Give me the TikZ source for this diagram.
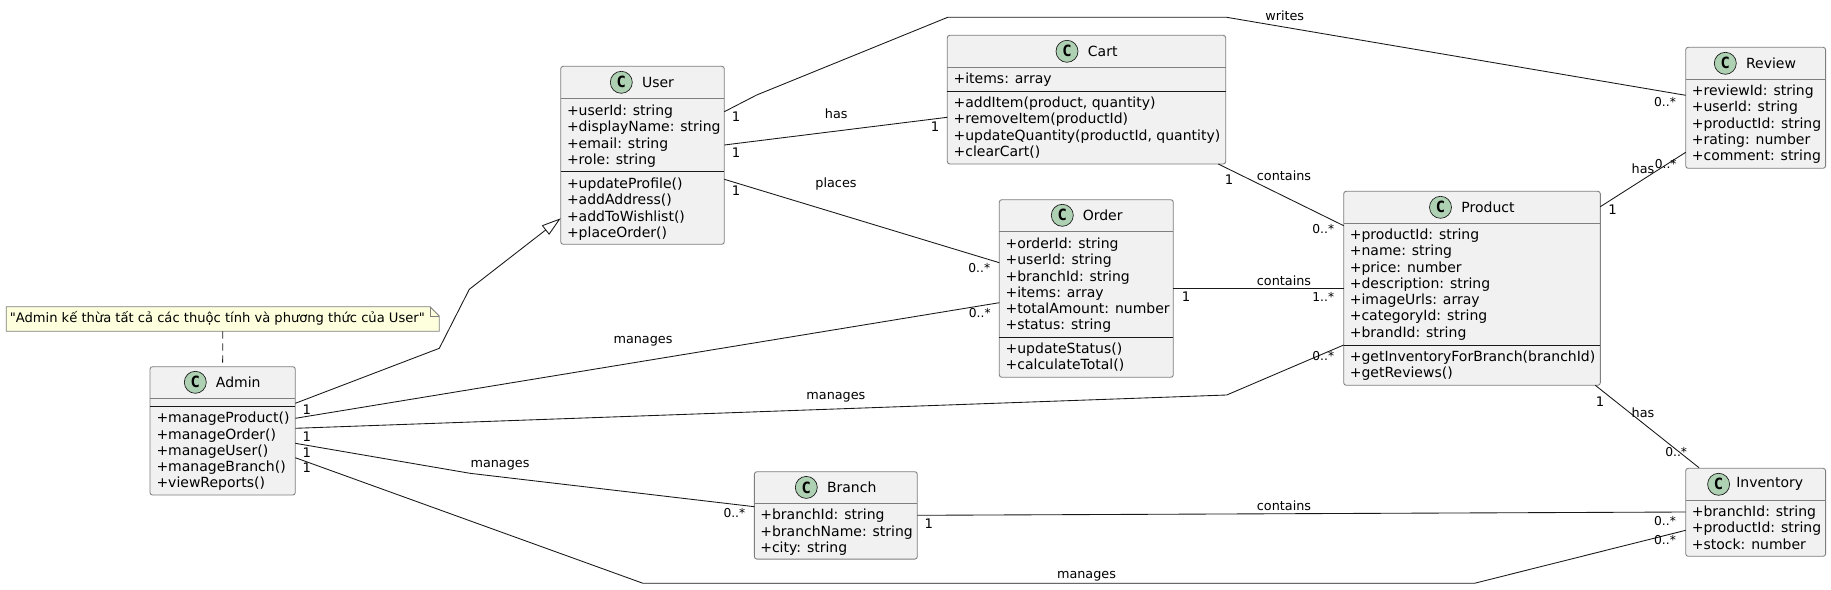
\documentclass[tikz,border=0pt]{standalone}
\usepackage{fontspec}
\setmainfont{DejaVu Sans}
\newfontfamily\iconfont{DejaVu Sans Mono}
\newfontfamily\notefont{DejaVu Sans}[Ligatures=NoCommon]
\usetikzlibrary{arrows.meta}
\definecolor{boxfill}{HTML}{F1F1F1}
\definecolor{boxline}{HTML}{7F7F7F}
\definecolor{ink}{HTML}{181818}
\definecolor{iconfill}{HTML}{ADD1B2}
\definecolor{notefill}{HTML}{FEFFDD}
\tikzset{
  classbox/.style={draw=boxline,fill=boxfill,line width=0.65pt,rounded corners=1.9pt,inner sep=0pt,outer sep=0pt},
  headsep/.style={draw=boxline,line width=0.65pt},
  membsep/.style={draw=ink,line width=0.7pt},
  member/.style={anchor=base west,inner sep=0pt,outer sep=0pt,text=black,font=\fontsize{10.5}{12}\selectfont},
  ctitle/.style={inner sep=0pt,outer sep=0pt,text=black,font=\fontsize{10.5}{12}\selectfont},
  iconc/.style={circle,draw=ink,fill=iconfill,line width=0.5pt,minimum size=16.5pt,inner sep=0pt,outer sep=0pt,text=black,font=\iconfont\bfseries\fontsize{11.6}{12}\selectfont},
  assoc/.style={draw=ink,line width=0.65pt,line join=miter},
  lbl/.style={inner sep=0pt,outer sep=0pt,text=black,font=\fontsize{9.6}{11}\selectfont},
  card/.style={inner sep=0pt,outer sep=0pt,text=black,font=\fontsize{9.2}{11}\selectfont},
  cardone/.style={inner sep=0pt,outer sep=0pt,text=black,font=\fontsize{9.9}{11}\selectfont},
  notetext/.style={inner sep=0pt,outer sep=0pt,text=black,font=\notefont\fontsize{9.82}{11}\selectfont},
  notebox/.style={draw=boxline,fill=notefill,line width=0.65pt},
}
\newcommand{\classnode}[5]{%
  \node[classbox,minimum width={(#4-#2)*0.75pt},minimum height={(#5-#3)*0.75pt}] (#1) at ({(#2+#4)/2},{(#3+#5)/2}) {};}
\newcommand{\classhead}[6]{%
  \node[iconc] (#1-icon) at (#2,#3) {C};
  \node[ctitle] (#1-title) at (#4,#5) {#6};}
\newcommand{\memberlist}[5]{%
  \foreach \memb [count=\mi] in {#5} {\node[member] (#1-#2\mi) at (#3,{#4+(\mi-1)*16.27}) {\memb};}}
\begin{document}
\begin{tikzpicture}[x=0.75pt,y=-0.75pt]
\useasboundingbox[fill=white] (0,0) rectangle (1831,589);

% class boxes
\classnode{admin}{150}{366.7}{295.3}{495}
\classnode{user}{560.7}{66.3}{724.3}{244.3}
\classnode{cart}{947.3}{35.3}{1225.7}{164}
\classnode{order}{999.3}{199.7}{1173.3}{377.3}
\classnode{product}{1343.7}{191.3}{1600.3}{385.3}
\classnode{review}{1685.7}{47.3}{1825.6}{168.3}
\classnode{inventory}{1685.7}{468.3}{1825.6}{556.3}
\classnode{branch}{754.4}{471.7}{917.3}{559.1}

% compartment separators
\draw[headsep] (admin.west |- 0,398) -- (admin.east |- 0,398);
\draw[membsep] (admin.west |- 0,406.3) -- (admin.east |- 0,406.3);
\draw[headsep] (user.west |- 0,98.3) -- (user.east |- 0,98.3);
\draw[membsep] (user.west |- 0,171.3) -- (user.east |- 0,171.3);
\draw[headsep] (cart.west |- 0,67.3) -- (cart.east |- 0,67.3);
\draw[membsep] (cart.west |- 0,91.3) -- (cart.east |- 0,91.3);
\draw[headsep] (order.west |- 0,231.5) -- (order.east |- 0,231.5);
\draw[membsep] (order.west |- 0,337.3) -- (order.east |- 0,337.3);
\draw[headsep] (product.west |- 0,223.3) -- (product.east |- 0,223.3);
\draw[membsep] (product.west |- 0,345) -- (product.east |- 0,345);
\draw[headsep] (review.west |- 0,79.5) -- (review.east |- 0,79.5);
\draw[headsep] (inventory.west |- 0,500.3) -- (inventory.east |- 0,500.3);
\draw[headsep] (branch.west |- 0,503.3) -- (branch.east |- 0,503.3);

% headers
\classhead{admin}{195.3}{382.3}{238.3}{382}{Admin}
\classhead{user}{621.3}{82.3}{658}{82}{User}
\classhead{cart}{1067}{51.3}{1102.7}{51}{Cart}
\classhead{order}{1062.3}{215.3}{1102.7}{215}{Order}
\classhead{product}{1440.5}{207.3}{1488}{207}{Product}
\classhead{review}{1725.3}{63.3}{1771}{63}{Review}
\classhead{inventory}{1718.6}{484.3}{1769.7}{484}{Inventory}
\classhead{branch}{806.3}{487.4}{851.7}{487.5}{Branch}

% members
\memberlist{admin}{m}{156.5}{422.8}{+manageProduct(),+manageOrder(),+manageUser(),+manageBranch(),+viewReports()}
\memberlist{user}{a}{567}{115.5}{+userId: string,+displayName: string,+email: string,+role: string}
\memberlist{user}{m}{567}{188.5}{+updateProfile(),+addAddress(),+addToWishlist(),+placeOrder()}
\memberlist{cart}{a}{953.6}{83.5}{+items: array}
\memberlist{cart}{m}{953.6}{107.5}{{+addItem(product, quantity)},+removeItem(productId),{+updateQuantity(productId, quantity)},+clearCart()}
\memberlist{order}{a}{1005.6}{248.5}{+orderId: string,+userId: string,+branchId: string,+items: array,+totalAmount: number,+status: string}
\memberlist{order}{m}{1005.6}{353.5}{+updateStatus(),+calculateTotal()}
\memberlist{product}{a}{1349.8}{239.5}{+productId: string,+name: string,+price: number,+description: string,+imageUrls: array,+categoryId: string,+brandId: string}
\memberlist{product}{m}{1349.8}{361.5}{+getInventoryForBranch(branchId),+getReviews()}
\memberlist{review}{a}{1691.8}{95.5}{+reviewId: string,+userId: string,+productId: string,+rating: number,+comment: string}
\memberlist{inventory}{a}{1691.8}{516.5}{+branchId: string,+productId: string,+stock: number}
\memberlist{branch}{a}{760.3}{519.8}{+branchId: string,+branchName: string,+city: string}

% note
\node[inner sep=0pt,outer sep=0pt,minimum width=324.75pt,minimum height=18.45pt] (note) at (222.8,319) {};
\draw[notebox] (note.north west) -- (430,0 |- note.north) -- (note.east |- 0,316) -- (note.south east) -- (note.south west) -- cycle;
\draw[boxline,line width=0.65pt] (430,0 |- note.north) -- (430,316) -- (note.east |- 0,316);
\node[notetext] (note-text) at (217.3,318.5) {"Admin kế thừa tất cả các thuộc tính và phương thức của User"};
\draw[assoc,dash pattern=on 5.5pt off 3.5pt] (note.south) -- (admin.north);

% connectors
\draw[assoc,-{Triangle[open,fill=white,length=14.5pt,width=8.8pt]}] (admin.east |- 0,403.3) -- (439.3,348.3) -- (469.3,289.3) -- (user.west |- 0,218.3);
\draw[assoc] (admin.east |- 0,418.3) -- (order.west |- 0,302.7);
\draw[assoc] (admin.east |- 0,428.3) -- (1226.7,395) -- (product.west |- 0,345);
\draw[assoc] (admin.east |- 0,443.3) -- (470,473.3) -- (branch.west |- 0,506.7);
\draw[assoc] (admin.east |- 0,457.7) -- (643,583.3) -- (1474.4,583.3) -- (inventory.west |- 0,530.3);
\draw[assoc] (user.east |- 0,111.7) -- (756.7,95) -- (947.7,17.3) -- (1226.7,17.3) -- (review.west |- 0,95.3);
\draw[assoc] (user.east |- 0,145) -- (cart.west |- 0,117.3);
\draw[assoc] (user.east |- 0,179.3) -- (order.west |- 0,262.7);
\draw[assoc] (cart.south -| 1218.3,0) -- (product.west |- 0,225.7);
\draw[assoc] (order.east |- 0,288.3) -- (product.west |- 0,288.3);
\draw[assoc] (product.east |- 0,206.7) -- (review.west |- 0,152.3);
\draw[assoc] (product.south -| 1595.3,0) -- (1699,467.7);
\draw[assoc] (branch.east |- 0,515.3) -- (inventory.west |- 0,512);

% connector labels
\node[lbl] (l-writes) at (1284.7,15.7) {writes};
\node[lbl] (l-has1) at (836.3,113.3) {has};
\node[lbl] (l-places) at (836,183.7) {places};
\node[lbl] (l-cont1) at (1284,175.7) {contains};
\node[lbl] (l-cont2) at (1284,280.7) {contains};
\node[lbl] (l-cont3) at (1284,506) {contains};
\node[lbl] (l-has2) at (1643,168.3) {has};
\node[lbl] (l-has3) at (1643,412.7) {has};
\node[lbl] (l-man1) at (643,341.7) {manages};
\node[lbl] (l-man2) at (835.9,397.7) {manages};
\node[lbl] (l-man3) at (500,465.7) {manages};
\node[lbl] (l-man4) at (1086.5,576) {manages};

% multiplicities
\node[cardone] (c1) at (306.7,409.7) {1};
\node[cardone] (c2) at (306.7,436.5) {1};
\node[cardone] (c3) at (306.7,452.3) {1};
\node[cardone] (c4) at (306.7,467.3) {1};
\node[cardone] (c5) at (736,116.3) {1};
\node[cardone] (c6) at (736,152.7) {1};
\node[cardone] (c7) at (935,126.7) {1};
\node[cardone] (c8) at (736,190.7) {1};
\node[cardone] (c9) at (1229,179.7) {1};
\node[cardone] (c10) at (1186,296.7) {1};
\node[cardone] (c11) at (1612.6,209.7) {1};
\node[cardone] (c12) at (1600,401.7) {1};
\node[cardone] (c13) at (928.9,523.7) {1};
\node[card] (c14) at (979.3,268.3) {0..*};
\node[card] (c15) at (979.8,312.7) {0..*};
\node[card] (c16) at (1323.3,229.3) {0..*};
\node[card] (c17) at (1323.3,296.7) {1..*};
\node[card] (c18) at (1323.3,355.7) {0..*};
\node[card] (c19) at (1665,102.3) {0..*};
\node[card] (c20) at (1665.7,164) {0..*};
\node[card] (c21) at (1676.2,452.3) {0..*};
\node[card] (c22) at (1665,521.3) {0..*};
\node[card] (c23) at (1665,540) {0..*};
\node[card] (c24) at (734.4,513.3) {0..*};
\end{tikzpicture}
\end{document}
